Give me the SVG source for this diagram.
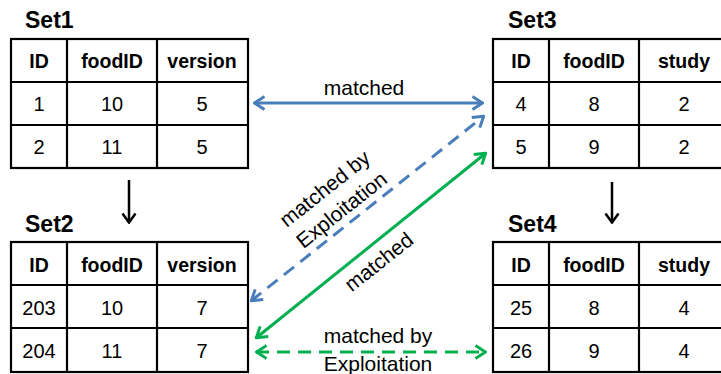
<svg xmlns="http://www.w3.org/2000/svg" width="721" height="374" viewBox="0 0 721 374">
  <style>
    .grid { fill: #ffffff; stroke: #000000; stroke-width: 2.2; }
    .rule { stroke: #000000; stroke-width: 2.2; }
    .title { font-family: "Liberation Sans", Arial, sans-serif; font-weight: bold; font-size: 23px; fill: #000; }
    .head { font-family: "Liberation Sans", Arial, sans-serif; font-weight: bold; font-size: 19.5px; fill: #000; text-anchor: middle; }
    .cell { font-family: "Liberation Sans", Arial, sans-serif; font-size: 20px; fill: #000; text-anchor: middle; }
    .lbl { font-family: "Liberation Sans", Arial, sans-serif; font-size: 21px; fill: #000; text-anchor: middle; }
    .blue { stroke: #4a7ebb; stroke-width: 3; fill: none; }
    .green { stroke: #00b050; stroke-width: 3; fill: none; }
    .dash { stroke-dasharray: 13 8; }
    .down { stroke: #000; stroke-width: 2.5; fill: none; }
  </style>
  <defs>
    <marker id="headBlue" viewBox="0 0 13 16" refX="12" refY="8" markerWidth="13" markerHeight="16" markerUnits="userSpaceOnUse" orient="auto-start-reverse">
      <path d="M1.5,1.5 L11.5,8 L1.5,14.5" fill="none" stroke="#4a7ebb" stroke-width="3"/>
    </marker>
    <marker id="headGreen" viewBox="0 0 13 16" refX="12" refY="8" markerWidth="13" markerHeight="16" markerUnits="userSpaceOnUse" orient="auto-start-reverse">
      <path d="M1.5,1.5 L11.5,8 L1.5,14.5" fill="none" stroke="#00b050" stroke-width="3"/>
    </marker>
    <marker id="headBlack" viewBox="0 0 12 16" refX="11" refY="8" markerWidth="12" markerHeight="16" markerUnits="userSpaceOnUse" orient="auto">
      <path d="M1.5,1.5 L10.5,8 L1.5,14.5" fill="none" stroke="#000" stroke-width="2.5"/>
    </marker>
  </defs>

  <!-- Set1 table -->
  <g id="set1">
    <text class="title" x="25" y="28">Set1</text>
    <rect class="grid" x="11" y="39" width="237" height="129"/>
    <line class="rule" x1="11" y1="82" x2="248" y2="82"/>
    <line class="rule" x1="11" y1="125" x2="248" y2="125"/>
    <line class="rule" x1="67" y1="39" x2="67" y2="168"/>
    <line class="rule" x1="157" y1="39" x2="157" y2="168"/>
    <text class="head" x="39" y="68">ID</text>
    <text class="head" x="112" y="68">foodID</text>
    <text class="head" x="202" y="68">version</text>
    <text class="cell" x="39" y="111">1</text>
    <text class="cell" x="112" y="111">10</text>
    <text class="cell" x="202" y="111">5</text>
    <text class="cell" x="39" y="154">2</text>
    <text class="cell" x="112" y="154">11</text>
    <text class="cell" x="202" y="154">5</text>
  </g>

  <!-- Set2 table -->
  <g id="set2">
    <text class="title" x="25" y="232">Set2</text>
    <rect class="grid" x="11" y="242" width="237" height="130"/>
    <line class="rule" x1="11" y1="285" x2="248" y2="285"/>
    <line class="rule" x1="11" y1="328" x2="248" y2="328"/>
    <line class="rule" x1="67" y1="242" x2="67" y2="372"/>
    <line class="rule" x1="157" y1="242" x2="157" y2="372"/>
    <text class="head" x="39" y="272">ID</text>
    <text class="head" x="112" y="272">foodID</text>
    <text class="head" x="202" y="272">version</text>
    <text class="cell" x="39" y="315">203</text>
    <text class="cell" x="112" y="315">10</text>
    <text class="cell" x="202" y="315">7</text>
    <text class="cell" x="39" y="358">204</text>
    <text class="cell" x="112" y="358">11</text>
    <text class="cell" x="202" y="358">7</text>
  </g>

  <!-- Set3 table (runs off the right edge) -->
  <g id="set3">
    <text class="title" x="508" y="28">Set3</text>
    <rect class="grid" x="493" y="39" width="236" height="129"/>
    <line class="rule" x1="493" y1="82" x2="729" y2="82"/>
    <line class="rule" x1="493" y1="125" x2="729" y2="125"/>
    <line class="rule" x1="549" y1="39" x2="549" y2="168"/>
    <line class="rule" x1="639" y1="39" x2="639" y2="168"/>
    <text class="head" x="521" y="68">ID</text>
    <text class="head" x="594" y="68">foodID</text>
    <text class="head" x="684" y="68">study</text>
    <text class="cell" x="521" y="111">4</text>
    <text class="cell" x="594" y="111">8</text>
    <text class="cell" x="684" y="111">2</text>
    <text class="cell" x="521" y="154">5</text>
    <text class="cell" x="594" y="154">9</text>
    <text class="cell" x="684" y="154">2</text>
  </g>

  <!-- Set4 table (runs off the right edge) -->
  <g id="set4">
    <text class="title" x="508" y="232">Set4</text>
    <rect class="grid" x="493" y="242" width="236" height="130"/>
    <line class="rule" x1="493" y1="285" x2="729" y2="285"/>
    <line class="rule" x1="493" y1="328" x2="729" y2="328"/>
    <line class="rule" x1="549" y1="242" x2="549" y2="372"/>
    <line class="rule" x1="639" y1="242" x2="639" y2="372"/>
    <text class="head" x="521" y="272">ID</text>
    <text class="head" x="594" y="272">foodID</text>
    <text class="head" x="684" y="272">study</text>
    <text class="cell" x="521" y="315">25</text>
    <text class="cell" x="594" y="315">8</text>
    <text class="cell" x="684" y="315">4</text>
    <text class="cell" x="521" y="358">26</text>
    <text class="cell" x="594" y="358">9</text>
    <text class="cell" x="684" y="358">4</text>
  </g>

  <!-- Connectors -->
  <g id="connectors">
    <line class="down" x1="129" y1="180" x2="129" y2="223" marker-end="url(#headBlack)"/>
    <line class="down" x1="612" y1="182" x2="612" y2="223" marker-end="url(#headBlack)"/>

    <line class="blue" x1="254" y1="103" x2="483" y2="103" marker-start="url(#headBlue)" marker-end="url(#headBlue)"/>
    <text class="lbl" x="364" y="95">matched</text>

    <line class="blue dash" x1="251" y1="301" x2="484" y2="116" marker-start="url(#headBlue)" marker-end="url(#headBlue)"/>
    <g transform="translate(333,199) rotate(-38.5)">
      <text class="lbl" x="0" y="-6">matched by</text>
      <text class="lbl" x="0" y="21">Exploitation</text>
    </g>

    <line class="green" x1="256" y1="338" x2="486" y2="153" marker-start="url(#headGreen)" marker-end="url(#headGreen)"/>
    <text class="lbl" transform="translate(379,262) rotate(-38.5)" x="0" y="7">matched</text>

    <line class="green dash" x1="256" y1="352" x2="486" y2="352" marker-start="url(#headGreen)" marker-end="url(#headGreen)"/>
    <text class="lbl" x="378" y="343">matched by</text>
    <text class="lbl" x="378" y="371">Exploitation</text>
  </g>
</svg>
